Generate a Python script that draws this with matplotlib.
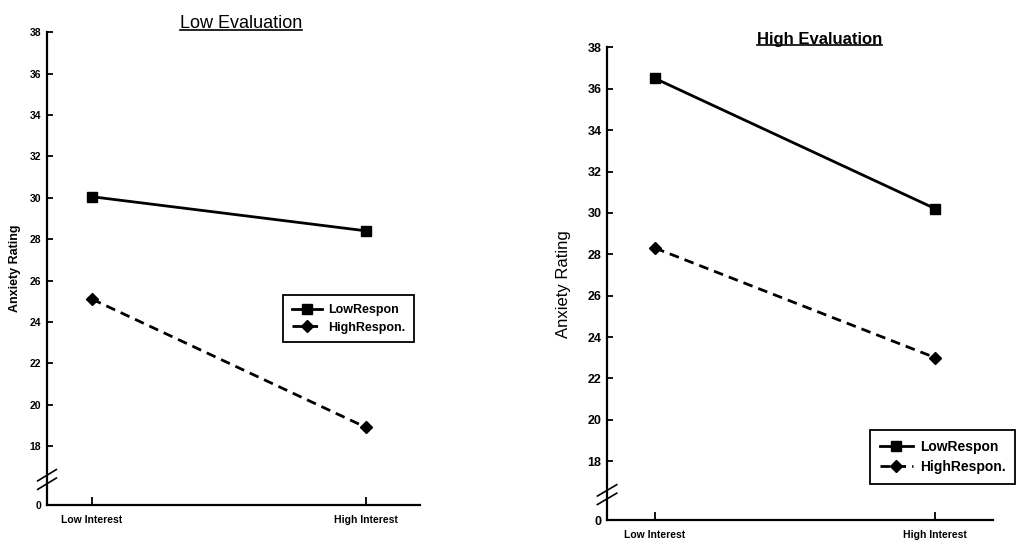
import matplotlib
matplotlib.use('Agg')
import matplotlib.pyplot as plt
from matplotlib.lines import Line2D

plt.rcParams['font.family'] = ['Liberation Sans', 'DejaVu Sans']

# Dane
conditions = ['Low Interest', 'High Interest']
series_names = ['LowRespon', 'HighRespon.']
low_eval_low_respon = [30.05, 28.4]
low_eval_high_respon = [25.1, 18.9]
high_eval_low_respon = [36.5, 30.2]
high_eval_high_respon = [28.3, 23.0]

y_ticks = [18, 20, 22, 24, 26, 28, 30, 32, 34, 36, 38]
y_floor = 15.15  # miejsce "0" pod przerwą osi

fig = plt.figure(figsize=(10.22, 5.51), dpi=100)


def draw_panel(ax, low_vals, high_vals, tick_fs, ylabel_fs, ylabel_w,
               leg_anchor, leg_fs, xlim, labelpad):
    x = list(range(len(conditions)))
    ax.plot(x, low_vals, color='black', lw=2, marker='s', ms=6.5, label=series_names[0])
    ax.plot(x, high_vals, color='black', lw=2, ls=(0, (3.5, 2.2)), marker='D', ms=6.5,
            label=series_names[1])
    ax.set_xlim(*xlim)
    ax.set_ylim(y_floor, 38)
    ax.set_yticks([y_floor] + y_ticks)
    ax.set_yticklabels(['0'] + [str(t) for t in y_ticks], fontsize=tick_fs, fontweight='bold')
    ax.set_xticks(x)
    ax.set_xticklabels(conditions, fontsize=7.5, fontweight='bold')
    ax.tick_params(axis='y', direction='in', length=4, width=1.3, pad=4)
    ax.tick_params(axis='x', direction='in', length=6, width=1.3, pad=7)
    for s in ['top', 'right']:
        ax.spines[s].set_visible(False)
    for s in ['left', 'bottom']:
        ax.spines[s].set_linewidth(1.6)
    ax.set_ylabel('Anxiety Rating', fontsize=ylabel_fs, fontweight=ylabel_w, labelpad=labelpad)
    # przerwa osi
    for dy in (0.045, 0.063):
        ax.plot([-0.025, 0.025], [dy - 0.012, dy + 0.012], transform=ax.transAxes,
                color='black', lw=1.2, clip_on=False)
    leg = ax.legend(loc='upper right', bbox_to_anchor=leg_anchor, fancybox=False,
                    edgecolor='black', framealpha=1, handlelength=2.4, handletextpad=0.5,
                    prop={'weight': 'bold', 'size': leg_fs}, borderpad=0.7,
                    labelspacing=0.45)
    leg.get_frame().set_linewidth(1.3)


ax1 = fig.add_axes([0.046, 0.0835, 0.365, 0.858])
draw_panel(ax1, low_eval_low_respon, low_eval_high_respon,
           7.5, 9, 'bold', (1.0, 0.457), 9, (-0.164, 1.197), 6)
t1 = ax1.set_title('Low Evaluation', fontsize=13, x=0.52, pad=2)

ax2 = fig.add_axes([0.594, 0.056, 0.378, 0.858])
draw_panel(ax2, high_eval_low_respon, high_eval_high_respon,
           9, 12, 'normal', (1.075, 0.205), 10, (-0.171, 1.207), 12)
t2 = ax2.set_title('High Evaluation', fontsize=12, fontweight='bold', x=0.55, pad=2)

# podkreślenie tytułów
fig.canvas.draw()
r = fig.canvas.get_renderer()
inv = fig.transFigure.inverted()
for t in (t1, t2):
    bb = t.get_window_extent(r)
    (x0, y0), (x1, _) = inv.transform([(bb.x0, bb.y0 + 2), (bb.x1, bb.y0)])
    fig.add_artist(Line2D([x0, x1], [y0, y0], transform=fig.transFigure,
                          color='black', lw=1.2))

fig.savefig('out.png', dpi=100)
